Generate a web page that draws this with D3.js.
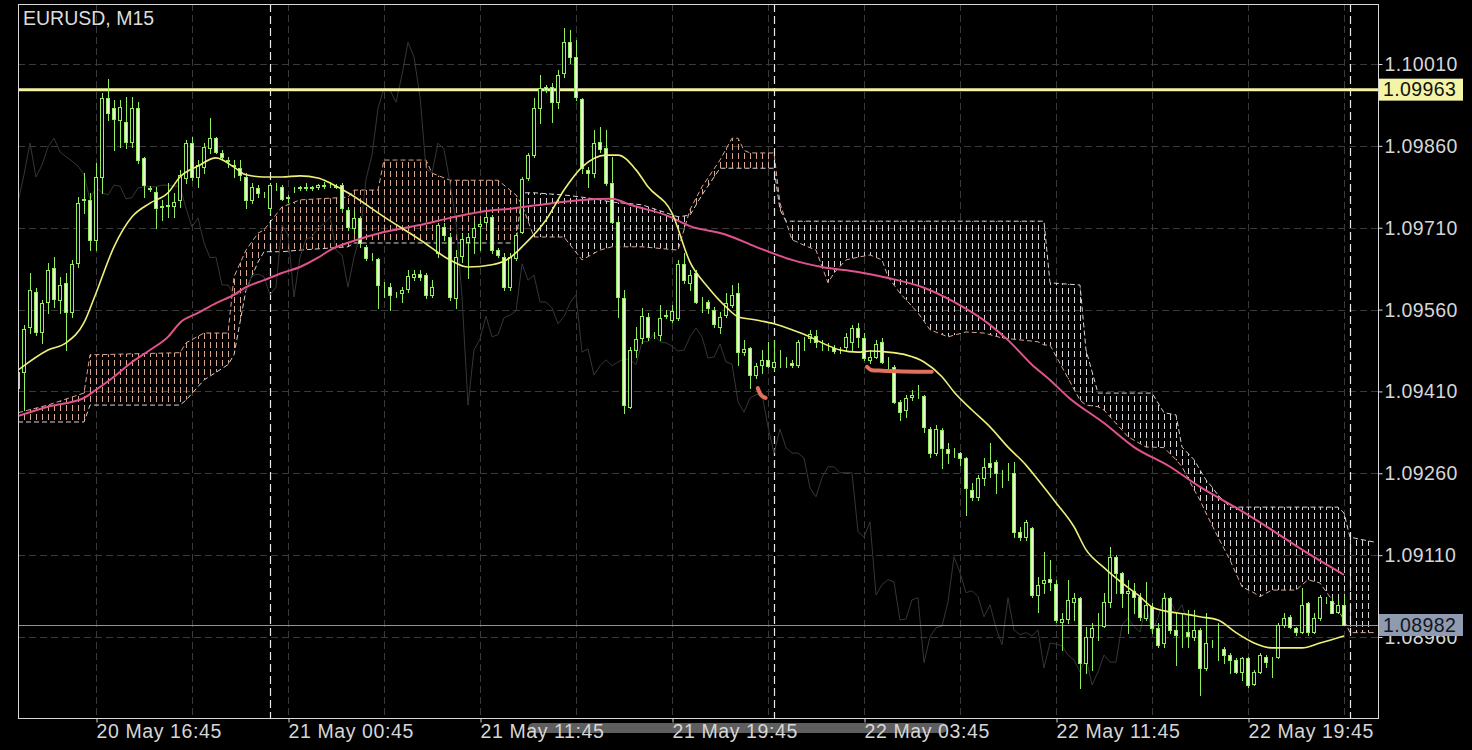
<!DOCTYPE html>
<html><head><meta charset="utf-8">
<script src="https://cdn.jsdelivr.net/npm/d3@7"></script>
<style>html,body{margin:0;padding:0;background:#000;}svg{display:block}</style>
</head><body>
<svg id="c" width="1472" height="750"></svg>
<script>
// ---------- DATA ----------
const candleOpen=[1.09416,1.09446,1.09528,1.09592,1.09519,1.09574,1.09636,1.09578,1.09609,1.09556,
1.09645,1.09761,1.09761,1.09688,1.09803,1.09948,1.09929,1.09907,1.09904,1.09867,
1.09929,1.09838,1.09783,1.09776,1.09750,1.09750,1.09750,1.09761,1.09801,1.09865,
1.09803,1.09821,1.09856,1.09874,1.09847,1.09834,1.09825,1.09819,1.09803,1.09761,
1.09783,1.09770,1.09746,1.09786,1.09785,1.09766,1.09783,1.09783,1.09783,1.09783,
1.09785,1.09786,1.09786,1.09785,1.09788,1.09743,1.09710,1.09728,1.09675,1.09656,
1.09653,1.09605,1.09601,1.09589,1.09590,1.09598,1.09620,1.09625,1.09623,1.09587,
1.09664,1.09711,1.09693,1.09581,1.09658,1.09684,1.09693,1.09713,1.09721,1.09730,
1.09669,1.09656,1.09601,1.09655,1.09702,1.09801,1.09843,1.09929,1.09968,1.09968,
1.09940,1.09994,1.10050,1.10023,1.09946,1.09816,1.09810,1.09867,1.09856,1.09792,
1.09721,1.09581,1.09382,1.09486,1.09508,1.09547,1.09514,1.09514,1.09548,1.09541,
1.09545,1.09644,1.09609,1.09627,1.09574,1.09574,1.09559,1.09528,1.09550,1.09568,
1.09590,1.09482,1.09490,1.09440,1.09459,1.09468,1.09455,1.09470,1.09468,1.09462,
1.09459,1.09501,1.09508,1.09512,1.09499,1.09493,1.09490,1.09486,1.09492,1.09501,
1.09526,1.09508,1.09468,1.09473,1.09501,1.09460,1.09455,1.09391,1.09376,1.09400,
1.09405,1.09402,1.09341,1.09297,1.09339,1.09305,1.09297,1.09297,1.09288,1.09230,
1.09217,1.09252,1.09279,1.09281,1.09261,1.09261,1.09261,1.09153,1.09143,1.09160,
1.09037,1.09059,1.09067,1.09057,1.08988,1.08993,1.09024,1.09032,1.08913,1.08960,
1.08980,1.08980,1.09024,1.09107,1.09078,1.09041,1.09045,1.09034,1.08995,1.09015,
1.08977,1.08949,1.09032,1.08973,1.08968,1.08969,1.08960,1.08973,1.08903,1.08947,
1.08944,1.08938,1.08927,1.08918,1.08896,1.08922,1.08874,1.08896,1.08924,1.08914,
1.08924,1.08982,1.08997,1.08977,1.08969,1.09023,1.08969,1.08995,1.09028,1.09026,
1.09006,1.09019];
const candleHigh=[1.09459,1.09532,1.09627,1.09600,1.09578,1.09645,1.09656,1.09620,1.09627,1.09651,
1.09766,1.09810,1.09774,1.09829,1.09957,1.09983,1.09944,1.09944,1.09950,1.09950,
1.09940,1.09840,1.09786,1.09785,1.09761,1.09792,1.09774,1.09816,1.09871,1.09876,
1.09834,1.09865,1.09911,1.09876,1.09852,1.09840,1.09834,1.09834,1.09810,1.09792,
1.09788,1.09776,1.09792,1.09792,1.09788,1.09770,1.09785,1.09786,1.09792,1.09786,
1.09790,1.09794,1.09794,1.09790,1.09792,1.09748,1.09743,1.09730,1.09678,1.09664,
1.09655,1.09611,1.09609,1.09592,1.09601,1.09633,1.09633,1.09633,1.09627,1.09614,
1.09719,1.09719,1.09700,1.09669,1.09700,1.09700,1.09721,1.09726,1.09737,1.09733,
1.09673,1.09664,1.09664,1.09700,1.09803,1.09847,1.09948,1.09990,1.09972,1.09975,
1.09999,1.10076,1.10072,1.10054,1.09948,1.09821,1.09889,1.09895,1.09889,1.09840,
1.09724,1.09596,1.09492,1.09528,1.09563,1.09554,1.09519,1.09568,1.09559,1.09568,
1.09651,1.09664,1.09633,1.09633,1.09583,1.09578,1.09565,1.09556,1.09590,1.09605,
1.09609,1.09504,1.09492,1.09462,1.09486,1.09501,1.09504,1.09486,1.09473,1.09468,
1.09504,1.09510,1.09523,1.09523,1.09504,1.09499,1.09495,1.09492,1.09517,1.09532,
1.09536,1.09517,1.09486,1.09504,1.09508,1.09473,1.09459,1.09394,1.09404,1.09413,
1.09422,1.09404,1.09345,1.09349,1.09343,1.09316,1.09307,1.09299,1.09290,1.09242,
1.09257,1.09288,1.09316,1.09285,1.09266,1.09279,1.09281,1.09162,1.09175,1.09162,
1.09070,1.09116,1.09101,1.09065,1.09004,1.09065,1.09041,1.09034,1.08979,1.08986,
1.09004,1.09041,1.09125,1.09110,1.09079,1.09065,1.09059,1.09041,1.09061,1.09023,
1.08986,1.09041,1.09034,1.09004,1.09004,1.09010,1.09010,1.08977,1.09004,1.08955,
1.08986,1.08942,1.08931,1.08922,1.08924,1.08924,1.08900,1.08931,1.08927,1.08924,
1.08986,1.09004,1.09001,1.08979,1.09050,1.09024,1.09004,1.09037,1.09034,1.09034,
1.09028,1.09037];
const candleLow=[1.09376,1.09376,1.09517,1.09514,1.09499,1.09554,1.09565,1.09554,1.09486,1.09547,
1.09638,1.09737,1.09669,1.09669,1.09774,1.09907,1.09852,1.09858,1.09856,1.09858,
1.09829,1.09766,1.09777,1.09710,1.09724,1.09730,1.09730,1.09748,1.09792,1.09797,
1.09785,1.09810,1.09847,1.09847,1.09834,1.09821,1.09803,1.09797,1.09746,1.09755,
1.09766,1.09766,1.09737,1.09779,1.09761,1.09757,1.09776,1.09779,1.09779,1.09779,
1.09781,1.09783,1.09785,1.09783,1.09743,1.09706,1.09700,1.09675,1.09651,1.09651,
1.09563,1.09583,1.09559,1.09583,1.09574,1.09592,1.09614,1.09614,1.09581,1.09583,
1.09656,1.09688,1.09578,1.09563,1.09647,1.09618,1.09664,1.09669,1.09715,1.09664,
1.09656,1.09596,1.09596,1.09651,1.09700,1.09797,1.09840,1.09902,1.09959,1.09904,
1.09929,1.09986,1.10012,1.09944,1.09810,1.09785,1.09803,1.09849,1.09788,1.09719,
1.09547,1.09371,1.09380,1.09473,1.09499,1.09504,1.09508,1.09504,1.09545,1.09537,
1.09541,1.09609,1.09596,1.09572,1.09556,1.09554,1.09528,1.09517,1.09547,1.09565,
1.09459,1.09477,1.09416,1.09435,1.09444,1.09455,1.09449,1.09455,1.09455,1.09455,
1.09455,1.09486,1.09501,1.09492,1.09486,1.09486,1.09481,1.09481,1.09486,1.09486,
1.09492,1.09468,1.09462,1.09471,1.09462,1.09453,1.09389,1.09358,1.09363,1.09394,
1.09398,1.09336,1.09290,1.09294,1.09270,1.09279,1.09290,1.09275,1.09184,1.09211,
1.09211,1.09239,1.09253,1.09224,1.09235,1.09248,1.09143,1.09138,1.09138,1.09034,
1.09006,1.09041,1.09046,1.08988,1.08936,1.08986,1.08991,1.08867,1.08894,1.08900,
1.08955,1.08979,1.09015,1.09041,1.09015,1.08968,1.09004,1.08991,1.08991,1.08968,
1.08942,1.08942,1.08968,1.08909,1.08942,1.08942,1.08955,1.08854,1.08900,1.08942,
1.08918,1.08913,1.08894,1.08894,1.08881,1.08869,1.08872,1.08894,1.08905,1.08887,
1.08922,1.08979,1.08977,1.08964,1.08968,1.08964,1.08968,1.08991,1.09023,1.09004,
1.09004,1.08982];
const candleClose=[1.09446,1.09525,1.09596,1.09519,1.09572,1.09633,1.09579,1.09605,1.09556,1.09644,
1.09755,1.09763,1.09688,1.09803,1.09948,1.09920,1.09909,1.09931,1.09867,1.09929,
1.09834,1.09788,1.09781,1.09746,1.09748,1.09752,1.09757,1.09807,1.09865,1.09803,
1.09825,1.09858,1.09874,1.09849,1.09840,1.09832,1.09823,1.09807,1.09761,1.09785,
1.09774,1.09770,1.09788,1.09786,1.09763,1.09765,1.09783,1.09785,1.09785,1.09785,
1.09788,1.09788,1.09786,1.09786,1.09746,1.09711,1.09728,1.09682,1.09655,1.09656,
1.09605,1.09605,1.09587,1.09589,1.09596,1.09622,1.09625,1.09620,1.09587,1.09601,
1.09715,1.09697,1.09583,1.09656,1.09689,1.09693,1.09710,1.09717,1.09730,1.09669,
1.09660,1.09601,1.09656,1.09697,1.09799,1.09843,1.09929,1.09966,1.09962,1.09940,
1.09990,1.10050,1.10023,1.09950,1.09819,1.09810,1.09865,1.09854,1.09792,1.09721,
1.09583,1.09385,1.09486,1.09506,1.09548,1.09510,1.09514,1.09545,1.09550,1.09557,
1.09644,1.09614,1.09623,1.09574,1.09574,1.09563,1.09534,1.09547,1.09572,1.09587,
1.09482,1.09488,1.09440,1.09457,1.09468,1.09457,1.09464,1.09470,1.09468,1.09459,
1.09501,1.09501,1.09515,1.09501,1.09499,1.09493,1.09484,1.09486,1.09510,1.09526,
1.09510,1.09471,1.09473,1.09497,1.09464,1.09460,1.09391,1.09372,1.09398,1.09404,
1.09405,1.09345,1.09297,1.09341,1.09307,1.09297,1.09297,1.09288,1.09233,1.09217,
1.09252,1.09272,1.09272,1.09261,1.09261,1.09261,1.09153,1.09143,1.09171,1.09037,
1.09056,1.09065,1.09061,1.08991,1.08993,1.09028,1.09032,1.08913,1.08960,1.08977,
1.08980,1.09024,1.09107,1.09078,1.09041,1.09045,1.09034,1.08997,1.09019,1.08977,
1.08946,1.09032,1.08973,1.08964,1.08968,1.08962,1.08973,1.08903,1.08949,1.08947,
1.08944,1.08927,1.08918,1.08896,1.08922,1.08872,1.08896,1.08927,1.08914,1.08914,
1.08982,1.08995,1.08979,1.08969,1.09019,1.08969,1.08995,1.09034,1.09028,1.09004,
1.09019,1.08982];

// Ichimoku cloud (Senkou span A / B), sampled at bar indices
const cloudIdx=[0,5,11,12,27,28,31,35,36,38,40,41,44,47,55,56,60,61,68,69,72,80,83,84,86,91,94,97,99,104,110,112,114,117,119,120,121,122,126,127,128,129,131,133,135,136,138,140,142,144,145,147,150,152,155,158,161,164,170,171,172,177,178,180,181,185,188,189,191,193,194,196,197,198,199,200,202,204,206,207,209,213,215,217,219,220,221,222,226];
const spanA=[1.09371,1.09385,1.09407,1.09477,1.09481,1.09499,1.09517,1.09517,1.09620,1.09669,
1.09700,1.09706,1.09748,1.09761,1.09766,1.09779,1.09779,1.09834,1.09834,1.09810,
1.09797,1.09797,1.09770,1.09752,1.09693,1.09693,1.09651,1.09669,1.09675,1.09675,
1.09669,1.09743,1.09785,1.09834,1.09874,1.09874,1.09852,1.09847,1.09847,1.09755,
1.09721,1.09688,1.09678,1.09669,1.09609,1.09627,1.09651,1.09656,1.09660,1.09651,
1.09620,1.09590,1.09554,1.09523,1.09510,1.09519,1.09517,1.09508,1.09501,1.09495,
1.09495,1.09394,1.09385,1.09382,1.09376,1.09327,1.09308,1.09308,1.09307,1.09285,
1.09272,1.09230,1.09211,1.09187,1.09165,1.09143,1.09101,1.09052,1.09041,1.09034,
1.09046,1.09046,1.09065,1.09059,1.09028,1.09010,1.08991,1.08968,1.08968];
const spanB=[1.09354,1.09354,1.09354,1.09385,1.09385,1.09394,1.09431,1.09459,1.09477,1.09596,
1.09647,1.09666,1.09666,1.09669,1.09675,1.09682,1.09682,1.09682,1.09682,1.09682,
1.09682,1.09682,1.09682,1.09774,1.09774,1.09770,1.09766,1.09761,1.09757,1.09752,
1.09730,1.09733,1.09770,1.09819,1.09819,1.09819,1.09819,1.09819,1.09819,1.09743,
1.09722,1.09722,1.09722,1.09722,1.09722,1.09722,1.09722,1.09722,1.09722,1.09722,
1.09722,1.09722,1.09722,1.09722,1.09722,1.09722,1.09722,1.09722,1.09722,1.09722,
1.09609,1.09605,1.09486,1.09407,1.09407,1.09407,1.09407,1.09407,1.09371,1.09367,
1.09308,1.09285,1.09266,1.09248,1.09235,1.09220,1.09198,1.09198,1.09198,1.09198,
1.09198,1.09198,1.09198,1.09198,1.09198,1.09198,1.09187,1.09143,1.09134];

// Moving averages (sampled)
const maFastIdx=[0,5,8,11,13,16,19,22,25,27,30,33,36,38,41,44,47,50,52,55,61,67,72,75,79,82,84,88,91,94,98,100,103,105,109,112,115,118,120,123,126,129,132,134,137,140,142,145,148,151,154,156,159,162,165,168,170,173,176,178,181,184,187,189,192,195,197,200,203,206,209,211,214,217,221];
const maFast=[1.09449,1.09486,1.09499,1.09536,1.09590,1.09675,1.09730,1.09755,1.09774,1.09803,
1.09823,1.09838,1.09821,1.09807,1.09803,1.09803,1.09805,1.09801,1.09792,1.09774,
1.09730,1.09688,1.09651,1.09638,1.09642,1.09655,1.09675,1.09724,1.09779,1.09821,
1.09843,1.09843,1.09816,1.09785,1.09737,1.09647,1.09601,1.09565,1.09547,1.09541,
1.09534,1.09523,1.09510,1.09499,1.09486,1.09482,1.09484,1.09482,1.09477,1.09464,
1.09437,1.09409,1.09376,1.09345,1.09308,1.09275,1.09248,1.09206,1.09162,1.09120,
1.09087,1.09059,1.09034,1.09015,1.09006,1.09001,1.08997,1.08991,1.08968,1.08949,
1.08940,1.08940,1.08940,1.08949,1.08962];
const maSlowIdx=[0,5,11,13,16,19,22,25,27,30,33,36,38,41,44,47,50,52,56,61,67,72,77,83,89,94,99,102,108,112,118,123,129,134,140,145,151,156,162,165,169,172,175,181,186,192,197,203,209,214,221];
const maSlow=[1.09365,1.09382,1.09398,1.09413,1.09437,1.09464,1.09486,1.09510,1.09536,1.09554,
1.09572,1.09587,1.09601,1.09614,1.09627,1.09638,1.09655,1.09669,1.09686,1.09702,
1.09715,1.09728,1.09739,1.09746,1.09755,1.09761,1.09763,1.09752,1.09733,1.09713,
1.09697,1.09675,1.09651,1.09638,1.09629,1.09618,1.09600,1.09574,1.09532,1.09504,
1.09459,1.09431,1.09400,1.09352,1.09308,1.09272,1.09235,1.09197,1.09156,1.09120,
1.09074];

// red indicator fragments [bar index, price]
const redSeg1=[[123.3,1.09416],[123.8,1.09404],[124.6,1.09398]];
const redSeg2=[[141.5,1.09455],[142.3,1.09449],[144,1.09448],[152.3,1.09446]];

const chikouShift=26;
const priceTicks=[1.10010,1.09860,1.09710,1.09560,1.09410,1.09260,1.09110,1.08960];
const timeTickIdx=[13,45,77,109,141,173,205];
const timeLabels=["20 May 16:45","21 May 00:45","21 May 11:45","21 May 19:45","22 May 03:45","22 May 11:45","22 May 19:45"];
const gridIdx=[13,29,45,61,77,93,109,125,141,157,173,189,205,221];
const daySepIdx=[42,126,222];
const levelLine=1.09963;
const bidPrice=1.08982;
const title="EURUSD, M15";

// ---------- DRAW ----------
const W=1472,H=750;
const P={l:18,t:4,r:1378,b:718};
const FONT="'Liberation Sans', Arial, sans-serif";
const x=d3.scaleLinear().domain([0,226]).range([18,1374]);
const y=d3.scaleLinear().domain([1.08960,1.10010]).range([637,64]);
const svg=d3.select('#c');
svg.append('rect').attr('width',W).attr('height',H).attr('fill','#000');
const defs=svg.append('defs');
defs.append('clipPath').attr('id','clip').append('rect')
  .attr('x',P.l).attr('y',P.t).attr('width',P.r-P.l).attr('height',P.b-P.t);
function hatch(id,color){
  const p=defs.append('pattern').attr('id',id).attr('patternUnits','userSpaceOnUse')
    .attr('x',15).attr('y',0).attr('width',6).attr('height',9);
  p.append('rect').attr('x',3).attr('y',0).attr('width',1).attr('height',6)
    .attr('fill',color).attr('shape-rendering','crispEdges');
}
const colA='#d9a68f', colB='#d6d2d6';
hatch('hatchA',colA); hatch('hatchB',colB);

const g=svg.append('g').attr('clip-path','url(#clip)');

// grid
const grid=g.append('g');
grid.selectAll('line.h').data(priceTicks).join('line')
  .attr('x1',P.l).attr('x2',P.r).attr('y1',d=>Math.round(y(d))+0.5).attr('y2',d=>Math.round(y(d))+0.5)
  .attr('stroke','#3a3a3a').attr('stroke-dasharray','7,4');
grid.selectAll('line.v').data(gridIdx).join('line')
  .attr('x1',d=>x(d)+0.5).attr('x2',d=>x(d)+0.5).attr('y1',P.t).attr('y2',P.b)
  .attr('stroke','#3a3a3a').attr('stroke-dasharray','7,4');

// cloud
const cloud=cloudIdx.map((d,k)=>({i:d,a:spanA[k],b:spanB[k]}));
defs.append('clipPath').attr('id','belowA').append('path')
  .attr('d',d3.area().x(d=>x(d.i)).y0(d=>y(d.a)).y1(P.b)(cloud));
defs.append('clipPath').attr('id','aboveA').append('path')
  .attr('d',d3.area().x(d=>x(d.i)).y0(P.t).y1(d=>y(d.a))(cloud));
const band=d3.area().x(d=>x(d.i)).y0(d=>y(d.a)).y1(d=>y(d.b));
g.append('path').attr('d',band(cloud)).attr('fill','url(#hatchA)').attr('clip-path','url(#belowA)');
g.append('path').attr('d',band(cloud)).attr('fill','url(#hatchB)').attr('clip-path','url(#aboveA)');
g.append('path').attr('d',d3.line().x(d=>x(d.i)).y(d=>y(d.a))(cloud))
  .attr('fill','none').attr('stroke',colA).attr('stroke-width',1).attr('stroke-dasharray','5,3');
g.append('path').attr('d',d3.line().x(d=>x(d.i)).y(d=>y(d.b))(cloud))
  .attr('fill','none').attr('stroke',colB).attr('stroke-width',1).attr('stroke-dasharray','5,3');

// day separators
g.selectAll('line.sep').data(daySepIdx).join('line')
  .attr('x1',d=>x(d)+0.5).attr('x2',d=>x(d)+0.5).attr('y1',P.t).attr('y2',P.b)
  .attr('stroke','#e8e8e8').attr('stroke-width',1.2).attr('stroke-dasharray','8,4');

// chikou span (close shifted back)
const idx=d3.range(candleClose.length);
const chikou=idx.filter(i=>i>=chikouShift).map(i=>[i-chikouShift,candleClose[i]]);
g.append('path').attr('d',d3.line().x(d=>x(d[0])).y(d=>y(d[1]))(chikou))
  .attr('fill','none').attr('stroke','#363636').attr('stroke-width',1);

// horizontal level lines
g.append('line').attr('x1',P.l).attr('x2',P.r).attr('y1',y(levelLine)).attr('y2',y(levelLine))
  .attr('stroke','#f4f4a6').attr('stroke-width',3);
g.append('line').attr('x1',P.l).attr('x2',P.r).attr('y1',Math.round(y(bidPrice))+0.5).attr('y2',Math.round(y(bidPrice))+0.5)
  .attr('stroke','#8a93a8').attr('stroke-width',1);

// candles
const green='#93ee5e', bearFill='#e8ffd4';
const cg=g.append('g');
cg.selectAll('line.wick').data(idx).join('line')
  .attr('x1',i=>x(i)+0.5).attr('x2',i=>x(i)+0.5)
  .attr('y1',i=>Math.round(y(candleHigh[i]))).attr('y2',i=>Math.round(y(candleLow[i]))+1)
  .attr('stroke',green).attr('stroke-width',1);
cg.selectAll('rect.body').data(idx).join('rect')
  .attr('x',i=>x(i)-1.5).attr('width',3)
  .attr('y',i=>Math.round(y(Math.max(candleOpen[i],candleClose[i])))+0.5)
  .attr('height',i=>Math.round(y(Math.min(candleOpen[i],candleClose[i])))-Math.round(y(Math.max(candleOpen[i],candleClose[i]))))
  .attr('fill',i=>candleClose[i]>=candleOpen[i]?'#000':bearFill)
  .attr('stroke',green).attr('stroke-width',1);

// moving averages
const lineG=d3.line().x(d=>x(d[0])).y(d=>y(d[1])).curve(d3.curveMonotoneX);
g.append('path').attr('d',lineG(maSlowIdx.map((d,k)=>[d,maSlow[k]])))
  .attr('fill','none').attr('stroke','#e2528e').attr('stroke-width',2);
g.append('path').attr('d',lineG(maFastIdx.map((d,k)=>[d,maFast[k]])))
  .attr('fill','none').attr('stroke','#eef07a').attr('stroke-width',1.6);

// red fragments
[redSeg1,redSeg2].forEach(s=>{
  g.append('path').attr('d',lineG(s)).attr('fill','none').attr('stroke','#e2705c')
    .attr('stroke-width',4).attr('stroke-linecap','round');
});

// frame
svg.append('rect').attr('x',P.l+0.5).attr('y',P.t+0.5).attr('width',P.r-P.l).attr('height',P.b-P.t)
  .attr('fill','none').attr('stroke','#d8d8d8').attr('stroke-width',1);

// scrollbar
svg.append('rect').attr('x',528).attr('y',723).attr('width',419).attr('height',10).attr('rx',5)
  .attr('fill','#5e5e5e');

// price axis
const ya=svg.append('g').attr('transform',`translate(${P.r+0.5},0)`)
  .call(d3.axisRight(y).tickValues(priceTicks).tickFormat(d3.format('.5f')).tickSize(4).tickPadding(2));
ya.select('.domain').remove();
ya.selectAll('line').attr('stroke','#d8d8d8');
ya.selectAll('text').attr('fill','#d6d6d6').attr('font-size',19.5).attr('font-family',FONT)
  .attr('letter-spacing',0.4).attr('dy','0.33em');

// time axis
const xa=svg.append('g').attr('transform',`translate(0,${P.b+0.5})`)
  .call(d3.axisBottom(x).tickValues(timeTickIdx).tickFormat((d,k)=>timeLabels[k]).tickSize(4));
xa.select('.domain').remove();
xa.selectAll('line').attr('stroke','#d8d8d8').attr('transform','translate(0.5,0)');
xa.selectAll('text').attr('fill','#d6d6d6').attr('font-size',19.5).attr('font-family',FONT)
  .attr('text-anchor','start').attr('y',19.5).attr('dy',0).attr('letter-spacing',0.6);

// price tags
function tag(price,bg,fg){
  const yy=y(price);
  svg.append('rect').attr('x',P.r+1).attr('y',yy-11).attr('width',84).attr('height',22).attr('fill',bg);
  svg.append('text').attr('x',P.r+5).attr('y',yy).attr('dy','0.35em').text(d3.format('.5f')(price))
    .attr('fill',fg).attr('font-size',19.5).attr('font-family',FONT).attr('letter-spacing',0.4);
}
tag(levelLine,'#f4f4a6','#111');
tag(bidPrice,'#8e9bb0','#151520');

// title
svg.append('text').attr('x',23).attr('y',25).text(title)
  .attr('fill','#dcdcdc').attr('font-size',19.5).attr('font-family',FONT);
</script>
</body></html>
